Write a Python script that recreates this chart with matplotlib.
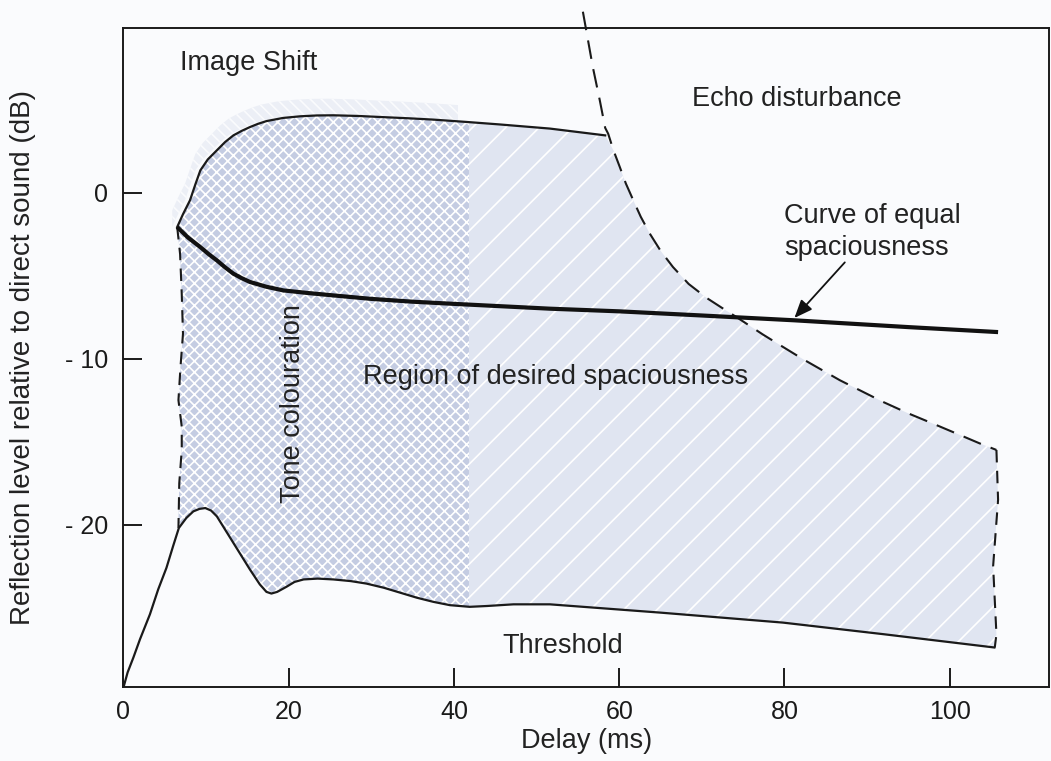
import numpy as np
import matplotlib.pyplot as plt
from matplotlib.patches import Rectangle

plt.rcParams['font.family'] = ['Liberation Sans', 'DejaVu Sans']
plt.rcParams['hatch.linewidth'] = 1.2

# threshold (lower solid curve)
thr_x = [0, 0.5, 1.2, 2.0, 3.2, 4.2, 5.2, 6.0, 6.7, 7.6, 8.45, 9.2, 9.9, 10.6, 11.3,
         12.3, 13.3, 14.3, 15.3, 16.5, 17.3, 17.9, 18.6, 19.7, 20.7, 21.8, 23.5, 25.4,
         27.5, 29.4, 31.5, 33.5, 35.5, 37.5, 39.5, 41.9, 44.0, 47.2, 51.6, 65, 79.8,
         92, 105.4]
thr_y = [-29.8, -28.9, -28.0, -26.9, -25.4, -23.9, -22.6, -21.3, -20.2, -19.6, -19.2,
         -19.05, -19.0, -19.15, -19.5, -20.3, -21.1, -21.9, -22.7, -23.6, -24.05,
         -24.15, -24.05, -23.75, -23.45, -23.3, -23.25, -23.3, -23.4, -23.55, -23.8,
         -24.1, -24.4, -24.65, -24.85, -24.95, -24.9, -24.8, -24.8, -25.3, -25.9,
         -26.6, -27.4]

# image shift (upper solid curve)
img_x = [6.5, 7.2, 8.05, 8.7, 9.3, 10.2, 11.3, 12.3, 13.3, 14.3, 15.3, 16.3, 17.3,
         19.3, 21.4, 23.4, 25.4, 28.4, 31.4, 34.5, 37.5, 41.5, 45.5, 51.6, 58.3]
img_y = [-2.07, -1.3, -0.46, 0.5, 1.34, 2.0, 2.55, 3.05, 3.45, 3.72, 3.95, 4.15, 4.31,
         4.5, 4.6, 4.65, 4.66, 4.62, 4.55, 4.48, 4.4, 4.26, 4.11, 3.86, 3.45]

# echo disturbance (dashed)
echo_x = [55.6, 56.8, 57.65, 58.3, 58.66, 59.3, 60.07, 60.8, 61.7, 62.6, 63.7, 65.0,
          66.5, 68.4, 70.6, 72.4, 74.2, 77.4, 80.0, 82.3, 86.7, 89.5, 91.9,
          95.0, 98.0, 101.0, 103.6, 105.65]
echo_y = [10.9, 7.57, 5.55, 3.9, 3.55, 2.55, 1.54, 0.55, -0.46, -1.45, -2.47, -3.5,
          -4.48, -5.5, -6.35, -6.93, -7.5, -8.55, -9.35, -10.05, -11.3, -12.0,
          -12.6, -13.3, -13.92, -14.55, -15.1, -15.5]

# right and left dashed limits
right_x = [105.65, 105.85, 105.25, 105.65, 105.45]
right_y = [-15.5, -18.5, -22.5, -26.6, -27.4]
left_x = [6.5, 6.85, 7.05, 7.2, 6.9, 6.65, 7.05, 7.05, 6.75, 6.65]
left_y = [-2.07, -3.7, -6.1, -8.5, -10.5, -12.5, -14.1, -15.5, -17.5, -20.2]

# curve of equal spaciousness
eq_x = [6.5, 7.8, 9.3, 10.3, 11.3, 12.3, 13.3, 14.3, 15.3, 17.3, 19.35, 22.4, 25.4,
        30, 35, 40, 51.6, 60, 70, 81.2, 95, 105.85]
eq_y = [-2.07, -2.7, -3.28, -3.7, -4.08, -4.5, -4.88, -5.15, -5.38, -5.67, -5.89,
        -6.05, -6.19, -6.4, -6.57, -6.7, -6.99, -7.15, -7.4, -7.69, -8.1, -8.4]

fig = plt.figure(figsize=(10.51, 7.61), dpi=100)
fig.patch.set_facecolor('#fafbfd')
ax = fig.add_axes([0.1175, 0.0968, 0.8805, 0.866])
ax.set_facecolor('#fafbfd')

# shaded region polygon
ex = np.array(echo_x); ey = np.array(echo_y)
keep = ey <= 3.45
poly_x = list(left_x[::-1]) + img_x + list(ex[keep]) + right_x + thr_x[::-1][:-9]
poly_y = list(left_y[::-1]) + img_y + list(ey[keep]) + right_y + thr_y[::-1][:-9]

ax.fill(poly_x, poly_y, facecolor='#e0e5f1', edgecolor='white', hatch='/', linewidth=0, zorder=1)

# soft halo above the dark part
iy = np.array(img_y)
halo = ax.fill_between(np.array(img_x) - 0.6, iy, iy + 1.0, facecolor='#eceff6',
                       edgecolor='#fafbfd', hatch='\\\\\\', linewidth=0, zorder=1)
halo.set_clip_path(Rectangle((5.0, -40), 35.5, 60, transform=ax.transData))

dark = ax.fill(poly_x, poly_y, facecolor='#c4cce2', edgecolor='white', hatch='xxx',
               linewidth=0, zorder=2)[0]
dark.set_clip_path(Rectangle((0, -40), 41.8, 60, transform=ax.transData))

ax.plot(thr_x, thr_y, color='#1a1a1a', lw=1.6, zorder=4)
ax.plot(img_x, img_y, color='#1a1a1a', lw=1.6, zorder=4)
ax.plot(echo_x, echo_y, color='#1a1a1a', lw=1.5, dashes=(9, 5), clip_on=False, zorder=4)
ax.plot(right_x, right_y, color='#1a1a1a', lw=1.5, dashes=(6, 4), zorder=4)
ax.plot(left_x, left_y, color='#1a1a1a', lw=1.5, dashes=(6, 4), zorder=4)
ax.plot(eq_x, eq_y, color='#111111', lw=3.0, solid_capstyle='butt', zorder=5)

ax.annotate('', xy=(81.2, -7.55), xytext=(87.3, -4.2),
            arrowprops=dict(arrowstyle='-|>,head_length=1.1,head_width=0.45',
                            color='#111111', lw=1.3, shrinkA=0, shrinkB=0), zorder=6)

fs = 19.5
ax.text(6.8, 7.36, 'Image Shift', fontsize=fs, color='#222222', va='baseline')
ax.text(68.8, 5.19, 'Echo disturbance', fontsize=fs, color='#222222', va='baseline')
ax.text(80.0, -1.83, 'Curve of equal', fontsize=fs, color='#222222', va='baseline')
ax.text(80.0, -3.78, 'spaciousness', fontsize=fs, color='#222222', va='baseline')
ax.text(29.0, -11.55, 'Region of desired spaciousness', fontsize=fs, color='#222222',
        va='baseline')
ax.text(20.5, -12.7, 'Tone colouration', fontsize=fs, color='#222222', rotation=90,
        ha='center', va='center')
ax.text(45.9, -27.75, 'Threshold', fontsize=fs, color='#222222', va='baseline')

ax.set_xlim(0, 112)
ax.set_ylim(-29.8, 9.9)
ax.set_xticks([0, 20, 40, 60, 80, 100])
ax.set_yticks([0, -10, -20])
ax.set_yticklabels(['0', '- 10', '- 20'])
ax.tick_params(direction='in', length=14, width=1.4, labelsize=18, colors='#1a1a1a')
ax.tick_params(axis='x', pad=9)
ax.tick_params(axis='y', pad=11)
for s in ax.spines.values():
    s.set_linewidth(1.4)
    s.set_color('#1a1a1a')

ax.set_xlabel('Delay (ms)', fontsize=19.5, color='#222222', labelpad=3)
ax.set_ylabel('Reflection level relative to direct sound (dB)', fontsize=20,
              color='#222222', labelpad=21)

fig.savefig('out.png', dpi=100, facecolor=fig.get_facecolor())
